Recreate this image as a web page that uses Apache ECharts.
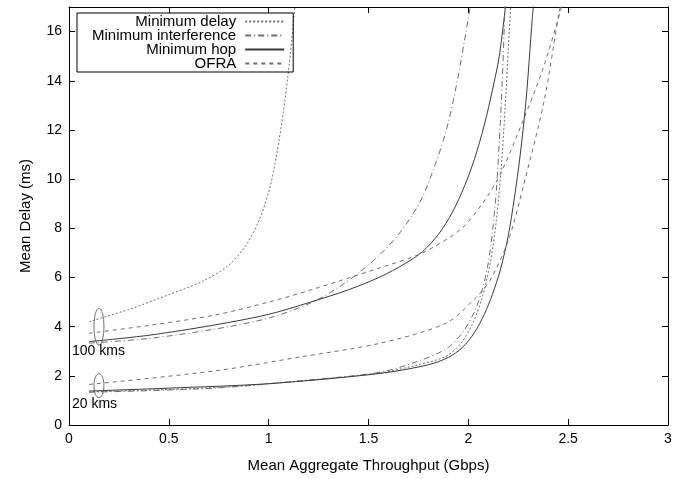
<!DOCTYPE html>
<html>
<head>
<meta charset="utf-8">
<script src="https://cdn.jsdelivr.net/npm/echarts@6/dist/echarts.min.js"></script>
<style>
  html, body { margin: 0; padding: 0; background: #fff; }
  #chart { width: 700px; height: 479px; }
</style>
</head>
<body>
<div id="chart"></div>
<script>
// delay vs throughput, two distance groups (100 kms upper, 20 kms lower)
const methods = ['Minimum delay', 'Minimum interference', 'Minimum hop', 'OFRA'];

// 100 kms curves  [throughput Gbps, delay ms]
const minDelay100 = [[0.1, 4.2], [0.3, 4.7], [0.5, 5.3], [0.67, 5.85], [0.8, 6.5], [0.89, 7.35], [0.956, 8.4], [1.006, 9.65], [1.04, 11.0], [1.073, 12.7], [1.095, 14.1], [1.115, 15.6], [1.135, 17.4]];
const minInterf100 = [[0.1, 3.33], [0.4, 3.52], [0.73, 3.9], [1.0, 4.35], [1.21, 4.96], [1.35, 5.6], [1.46, 6.25], [1.56, 6.95], [1.66, 7.85], [1.76, 9.1], [1.83, 10.5], [1.89, 12.0], [1.94, 13.8], [1.98, 15.6], [2.02, 17.5]];
const minHop100 = [[0.1, 3.39], [0.4, 3.65], [0.73, 4.07], [1.0, 4.5], [1.21, 5.0], [1.4, 5.5], [1.56, 6.03], [1.68, 6.55], [1.77, 7.05], [1.85, 7.75], [1.92, 8.65], [1.98, 9.7], [2.03, 10.8], [2.08, 12.2], [2.12, 13.6], [2.155, 15.0], [2.19, 17.3]];
const ofra100 = [[0.1, 3.73], [0.4, 4.05], [0.73, 4.47], [1.0, 5.0], [1.21, 5.49], [1.56, 6.4], [1.77, 7.0], [1.96, 7.95], [2.07, 9.0], [2.16, 10.2], [2.27, 12.3], [2.37, 14.4], [2.46, 16.8], [2.47, 17.2]];

// 20 kms curves
const minDelay20 = [[0.1, 1.35], [0.73, 1.52], [1.2, 1.82], [1.56, 2.12], [1.75, 2.45], [1.89, 2.8], [1.96, 3.3], [2.02, 4.1], [2.07, 5.2], [2.11, 6.6], [2.14, 8.3], [2.165, 10.5], [2.185, 13.0], [2.2, 15.3], [2.215, 17.4]];
const minInterf20 = [[0.1, 1.33], [0.73, 1.5], [1.2, 1.83], [1.56, 2.15], [1.75, 2.6], [1.89, 3.1], [1.97, 3.75], [2.03, 4.6], [2.07, 5.5], [2.1, 6.6], [2.12, 7.8], [2.14, 9.5], [2.155, 11.5], [2.17, 14.0], [2.185, 17.4]];
const minHop20 = [[0.1, 1.38], [0.5, 1.5], [1.0, 1.68], [1.56, 2.1], [1.8, 2.45], [1.9, 2.75], [1.97, 3.15], [2.03, 3.75], [2.08, 4.5], [2.12, 5.3], [2.16, 6.3], [2.2, 7.7], [2.23, 9.2], [2.26, 11.0], [2.29, 13.3], [2.32, 16.5], [2.33, 17.4]];
const ofra20 = [[0.1, 1.65], [0.73, 2.2], [1.16, 2.77], [1.56, 3.33], [1.89, 4.15], [2.04, 5.2], [2.11, 5.9], [2.2, 7.5], [2.275, 9.7], [2.38, 13.2], [2.455, 16.8], [2.47, 17.3]];

// group annotations: ellipse centre/radii and label anchor (data units)
const groupLabels = ['100 kms', '20 kms'];
const markX = [0.15, 0.15];
const markY = [4.0, 1.6];
const markRx = [0.025, 0.025];
const markRy = [0.75, 0.49];
const labelX = [0.015, 0.015];
const labelY = [3.02, 0.85];

const FONT = 'Liberation Sans, Arial, Helvetica, sans-serif';
const GREY = '#6e6e6e';

const styles = {
  'Minimum delay': { color: GREY, type: [2, 2] },
  'Minimum interference': { color: GREY, type: [6, 3, 1, 3] },
  'Minimum hop': { color: '#3a3a3a', type: 'solid' },
  'OFRA': { color: GREY, type: [4, 4] }
};

function lineSeries(name, data) {
  return {
    name: name,
    type: 'line',
    data: data,
    smooth: 0.3,
    symbol: 'none',
    clip: true,
    silent: true,
    color: styles[name].color,
    lineStyle: { width: 1, color: styles[name].color, type: styles[name].type }
  };
}

const marks = groupLabels.map((t, i) => [markX[i], markY[i], markRx[i], markRy[i], labelX[i], labelY[i], t]);

const chart = echarts.init(document.getElementById('chart'));

const axisCommon = {
  type: 'value',
  axisLine: { show: true, onZero: false, lineStyle: { color: '#000', width: 1 } },
  axisTick: { show: true, inside: true, length: 6, lineStyle: { color: '#000' } },
  splitLine: { show: false }
};

chart.setOption({
  animation: false,
  backgroundColor: '#fff',
  textStyle: { fontFamily: FONT },
  grid: { left: 69, right: 32, top: 7, bottom: 54 },
  legend: {
    data: methods,
    left: 77,
    top: 13,
    orient: 'vertical',
    align: 'right',
    itemWidth: 39,
    itemHeight: 13,
    itemGap: -1,
    padding: [1, 8, 1, 15],
    borderColor: '#000',
    borderWidth: 1,
    selectedMode: false,
    itemStyle: { opacity: 0 },
    textStyle: { fontSize: 15, lineHeight: 13, color: '#000', fontFamily: FONT, padding: [0, 4, 0, 0] }
  },
  xAxis: [
    Object.assign({}, axisCommon, {
      min: 0, max: 3, interval: 0.5,
      name: 'Mean Aggregate Throughput (Gbps)',
      nameLocation: 'middle',
      nameGap: 33,
      nameTextStyle: { fontSize: 15, color: '#000', fontFamily: FONT },
      axisLabel: { fontSize: 14, color: '#000', margin: 7, fontFamily: FONT }
    }),
    Object.assign({}, axisCommon, {
      position: 'top', min: 0, max: 3, interval: 0.5,
      axisLabel: { show: false }
    })
  ],
  yAxis: [
    Object.assign({}, axisCommon, {
      min: 0, max: 17, interval: 2,
      name: 'Mean Delay (ms)',
      nameLocation: 'middle',
      nameGap: 36,
      nameTextStyle: { fontSize: 15, color: '#000', fontFamily: FONT },
      axisLabel: { fontSize: 14, color: '#000', margin: 7, showMaxLabel: false, fontFamily: FONT }
    }),
    Object.assign({}, axisCommon, {
      position: 'right', min: 0, max: 17, interval: 2,
      axisLabel: { show: false }
    })
  ],
  series: [
    lineSeries('Minimum delay', minDelay100),
    lineSeries('Minimum interference', minInterf100),
    lineSeries('Minimum hop', minHop100),
    lineSeries('OFRA', ofra100),
    lineSeries('Minimum delay', minDelay20),
    lineSeries('Minimum interference', minInterf20),
    lineSeries('Minimum hop', minHop20),
    lineSeries('OFRA', ofra20),
    {
      type: 'custom',
      silent: true,
      data: marks,
      renderItem: function (params, api) {
        const c = api.coord([api.value(0), api.value(1)]);
        const s = api.size([api.value(2), api.value(3)]);
        const l = api.coord([api.value(4), api.value(5)]);
        return {
          type: 'group',
          children: [
            {
              type: 'ellipse',
              shape: { cx: c[0], cy: c[1], rx: s[0], ry: s[1] },
              style: { fill: 'none', stroke: GREY, lineWidth: 1 }
            },
            {
              type: 'text',
              x: l[0],
              y: l[1],
              style: {
                text: marks[params.dataIndex][6],
                fill: '#000',
                font: '14px ' + FONT,
                textAlign: 'left',
                textVerticalAlign: 'middle'
              }
            }
          ]
        };
      }
    }
  ]
});
</script>
</body>
</html>
